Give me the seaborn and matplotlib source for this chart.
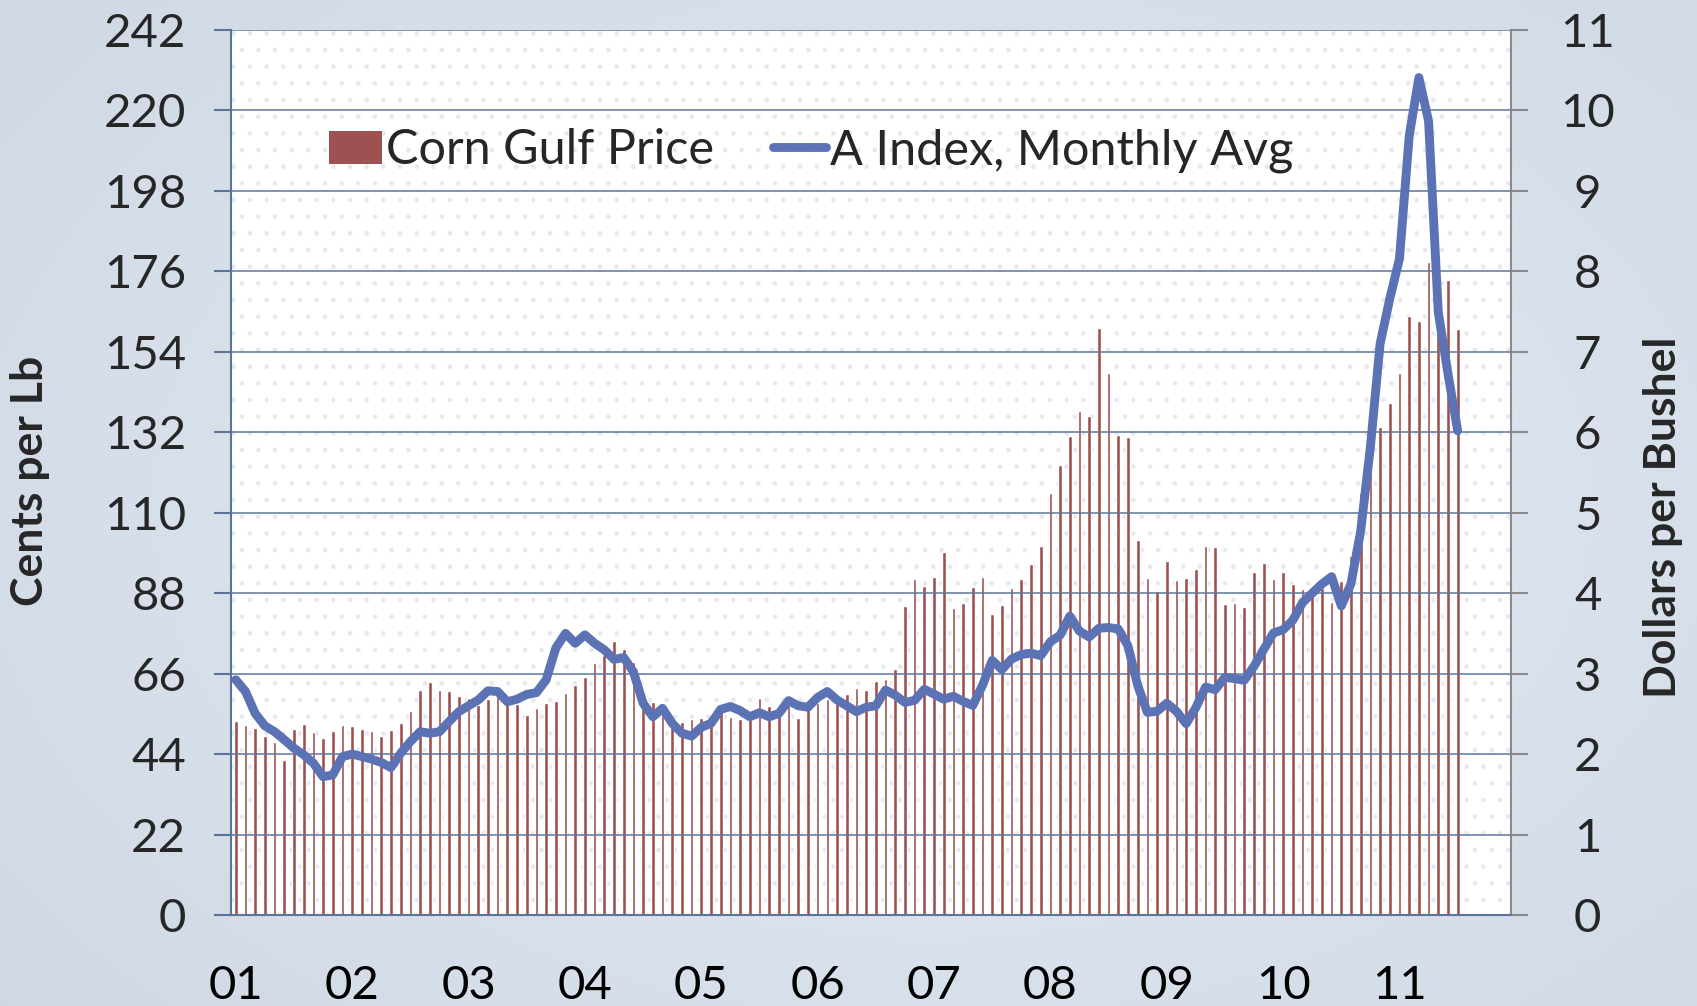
import numpy as np
import pandas as pd
import matplotlib
matplotlib.use("Agg")
import matplotlib.pyplot as plt
from matplotlib.patches import Rectangle, Patch
from matplotlib.lines import Line2D
import seaborn as sns

# year labels on the x axis (one per January)
year_labels = ["01", "02", "03", "04", "05", "06", "07", "08", "09", "10", "11"]

# Corn Gulf price, dollars per bushel, Jan 2001 .. Jul 2011 (right axis)
corn_gulf = [
    2.41, 2.36, 2.33, 2.23, 2.15, 1.92, 2.31, 2.37, 2.28, 2.20, 2.29, 2.36,
    2.35, 2.31, 2.29, 2.22, 2.30, 2.38, 2.54, 2.80, 2.90, 2.80, 2.78, 2.72,
    2.70, 2.61, 2.68, 2.75, 2.67, 2.62, 2.49, 2.57, 2.64, 2.66, 2.76, 2.86,
    2.96, 3.13, 3.23, 3.40, 3.30, 3.14, 2.59, 2.65, 2.55, 2.38, 2.40, 2.44,
    2.45, 2.40, 2.53, 2.46, 2.43, 2.49, 2.70, 2.60, 2.47, 2.61, 2.45, 2.57,
    2.63, 2.69, 2.63, 2.75, 2.82, 2.79, 2.91, 2.93, 3.06, 3.84, 4.17, 4.09,
    4.20, 4.51, 3.82, 3.88, 4.08, 4.20, 3.74, 3.85, 4.06, 4.17, 4.36, 4.59,
    5.25, 5.59, 5.95, 6.26, 6.20, 7.29, 6.74, 5.97, 5.94, 4.66, 4.19, 4.03,
    4.40, 4.16, 4.19, 4.30, 4.59, 4.57, 3.87, 3.88, 3.83, 4.26, 4.37, 4.18,
    4.26, 4.11, 4.05, 4.05, 4.06, 3.89, 4.15, 4.46, 5.25, 5.65, 6.06, 6.36,
    6.74, 7.44, 7.38, 8.11, 7.45, 7.89, 7.28,
]

# A Index monthly average, cents per lb (left axis)
a_index = [
    64.3, 61.1, 55.1, 51.7, 50.1, 47.9, 45.6, 43.8, 41.5, 37.8, 38.3, 43.3,
    44.0, 43.3, 42.6, 41.7, 40.3, 44.2, 47.4, 50.1, 49.7, 50.1, 52.9, 55.6,
    57.2, 58.8, 61.3, 61.1, 58.3, 59.0, 60.3, 60.8, 64.3, 73.0, 77.0, 74.3,
    76.6, 74.3, 72.5, 69.9, 70.4, 66.5, 57.9, 54.2, 56.5, 52.4, 49.7, 48.9,
    51.3, 52.4, 56.2, 57.0, 55.9, 54.2, 55.3, 54.2, 55.1, 58.6, 57.2, 56.8,
    59.5, 61.1, 58.8, 57.2, 55.6, 56.8, 57.2, 61.5, 60.1, 58.1, 58.7, 61.7,
    60.4, 59.0, 59.8, 58.4, 57.3, 62.8, 69.6, 67.1, 70.0, 71.2, 71.6, 70.9,
    74.7, 76.5, 81.7, 77.6, 76.0, 78.4, 78.6, 78.2, 73.6, 62.8, 55.4, 55.7,
    57.9, 55.7, 52.3, 56.7, 62.3, 61.6, 65.0, 64.6, 64.2, 68.0, 72.6, 77.1,
    78.0, 80.6, 85.4, 88.0, 90.5, 92.5, 84.5, 90.6, 105.0, 128.0, 156.2, 168.5,
    179.5, 213.0, 229.0, 217.1, 164.8, 148.0, 132.4,
]

df = pd.DataFrame({"month": np.arange(len(corn_gulf)), "corn": corn_gulf, "a_index": a_index})

BAR = "#9E5150"
LINE = "#5B73B5"
AXC = "#5A7396"
GRID = "#5E7698"

sns.set_style("white")
plt.rcParams["font.family"] = ["Lato", "DejaVu Sans"]
plt.rcParams["hatch.linewidth"] = 1.0

fig = plt.figure(figsize=(16.97, 10.06), dpi=100)

# soft blue-grey background gradient
bg = fig.add_axes([0, 0, 1, 1], zorder=-10)
yy, xx = np.mgrid[0:1:200j, 0:1:340j]
d = np.clip(np.hypot((xx - 0.55) / 0.85, (yy - 0.5) / 0.95), 0, 1)
c0 = np.array([0xE4, 0xEC, 0xF7]) / 255
c1 = np.array([0xCC, 0xD4, 0xE0]) / 255
bg.imshow(c0 + (c1 - c0) * d[..., None], extent=[0, 1, 0, 1], aspect="auto")
bg.axis("off")

ax = fig.add_axes([0.1361, 0.0905, 0.7543, 0.8797])
ax.set_facecolor("white")
ax.add_patch(Rectangle((0, 0), 1, 1, transform=ax.transAxes, facecolor="none",
                       edgecolor="#E7E9EF", hatch=".", lw=0, zorder=0))

# corn bars on the primary axes (dollars per bushel, shown on the right)
sns.barplot(data=df, x="month", y="corn", native_scale=True, width=0.38,
            color=BAR, saturation=1, errorbar=None, ax=ax, zorder=1)

# A index line on a twin axes so it sits above the bars
ax2 = ax.twinx()
sns.lineplot(data=df, x="month", y="a_index", ax=ax2, color=LINE, lw=6.4,
             solid_capstyle="round", solid_joinstyle="round", zorder=3)

ax.set_xlim(-0.5, 131.5)
ax.set_ylim(0, 11)
ax2.set_ylim(0, 242)

# x axis: labels at January, tick marks between years
ax.set_xticks([12 * k for k in range(len(year_labels))])
ax.set_xticklabels(year_labels)
ax.set_xticks([12 * k - 0.5 for k in range(len(year_labels) + 1)], minor=True)
ax.tick_params(axis="x", which="major", length=0, pad=36, labelsize=34, labelcolor="black")
ax.tick_params(axis="x", which="minor", length=12.2, width=1.5, color=AXC, direction="out")

# right axis (dollars per bushel)
ax.yaxis.tick_right()
ax.yaxis.set_label_position("right")
ax.set_yticks(range(12))
ax.tick_params(axis="y", which="major", length=12.2, width=1.5, color="#8A8A8A",
               direction="out", pad=43, labelsize=34)
for t in ax.get_yticklabels():
    t.set_ha("center")
ax.set_ylabel("Dollars per Bushel", fontsize=32, fontweight="bold")
ax.yaxis.set_label_coords(1.119, 0.449)
ax.yaxis.label.set_va("center")
ax.set_xlabel("")

# left axis (cents per lb)
ax2.yaxis.tick_left()
ax2.yaxis.set_label_position("left")
ax2.set_yticks(range(0, 243, 22))
ax2.tick_params(axis="y", which="major", length=12.2, width=1.5, color=AXC,
                direction="out", pad=20, labelsize=34)
ax2.set_ylabel("Cents per Lb", fontsize=32, fontweight="bold")
ax2.yaxis.set_label_coords(-0.157, 0.490)
ax2.yaxis.label.set_va("center")
ax2.set_xlabel("")
ax2.grid(axis="y", color=GRID, lw=1.1)
ax2.set_axisbelow(True)

for a in (ax, ax2):
    a.spines["top"].set_visible(False)
ax.spines["left"].set_visible(False)
ax.spines["bottom"].set_color(AXC)
ax.spines["bottom"].set_linewidth(1.5)
ax.spines["right"].set_color("#8A8A8A")
ax.spines["right"].set_linewidth(1.5)
ax2.spines["right"].set_visible(False)
ax2.spines["bottom"].set_visible(False)
ax2.spines["left"].set_color(AXC)
ax2.spines["left"].set_linewidth(1.5)

handles = [Patch(facecolor=BAR, edgecolor="none"),
           Line2D([], [], color=LINE, lw=6.4, solid_capstyle="round")]
ax2.legend(handles, ["Corn Gulf Price", "A Index, Monthly Avg"], loc="upper left",
           bbox_to_anchor=(0.0766, 0.889), ncol=2, frameon=False, fontsize=35,
           handlelength=1.1, handleheight=0.66, handletextpad=0.08,
           columnspacing=1.2, borderpad=0, borderaxespad=0)

fig.savefig("out.png", dpi=100)
